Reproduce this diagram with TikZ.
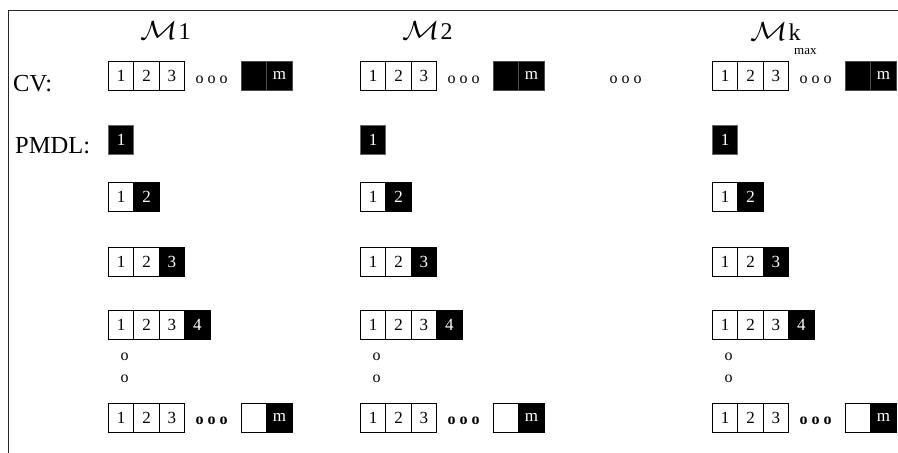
\documentclass[tikz,border=0pt]{standalone}
\usepackage{fontspec}
\setmainfont{Liberation Serif}
\newcommand{\bigM}{\scalebox{1.25}[1.05]{$\mathcal{M}$}}
\begin{document}
\begin{tikzpicture}[x=1pt,y=-1pt,
  cell/.style={draw=black, line width=0.8pt, minimum width=25.4pt, minimum height=29pt,
    inner sep=0pt, anchor=north west, font=\fontsize{17}{17}\selectfont},
  wcell/.style={cell, fill=white},
  bcell/.style={cell, fill=black, text=white},
  lab/.style={font=\fontsize{24.5}{24.5}\selectfont, anchor=base west, inner sep=0pt},
  ttl/.style={font=\fontsize{24}{24}\selectfont, anchor=base west, inner sep=0pt},
  odots/.style={font=\fontsize{16}{16}\selectfont, inner sep=0pt},
  frameline/.style={line width=0.9pt, draw=black!85}]
\useasboundingbox (0,0) rectangle (898,453);
% frame
\coordinate (fbl) at (8,453);
\coordinate (ftl) at (8,10);
\coordinate (ftr) at (898,10);
\draw[frameline] (fbl) -- (ftl) -- (ftr);
% labels
\node[lab] (cvlab) at (13,91) {CV:};
\node[lab] (pmdllab) at (15,153) {PMDL:};
% titles
\node[ttl] (t1) at (140,39) {\bigM\kern1pt 1};
\node[ttl] (t2) at (402,39) {\bigM\kern1pt 2};
\node[ttl] (t3) at (750,40) {\bigM\kern1pt k};
\node[font=\fontsize{13}{13}\selectfont, anchor=base west, inner sep=0pt] (t3s) at (794,54) {max};
% middle dots
\node[odots] (middots) at (625.5,80) {o o o};
% columns
\foreach \c/\x in {1/108, 2/360, 3/712}{
  % CV row
  \node[wcell] (cv-\c-1) at (\x,61) {1};
  \node[wcell] (cv-\c-2) at ({\x+25.4},61) {2};
  \node[wcell] (cv-\c-3) at ({\x+50.8},61) {3};
  \node[odots] (cv-\c-d) at ({\x+103.5},80) {o o o};
  \node[bcell, draw=black!70] (cv-\c-4) at ({\x+133},61) {};
  \node[bcell, draw=black!70] (cv-\c-m) at ({\x+158.4},61) {m};
  % PMDL rows
  \node[bcell, draw=black!60] (r1-\c-1) at (\x,125) {1};
  \node[wcell] (r2-\c-1) at (\x,182) {1};
  \node[bcell] (r2-\c-2) at ({\x+25.4},182) {2};
  \node[wcell] (r3-\c-1) at (\x,247) {1};
  \node[wcell] (r3-\c-2) at ({\x+25.4},247) {2};
  \node[bcell] (r3-\c-3) at ({\x+50.8},247) {3};
  \node[wcell] (r4-\c-1) at (\x,310) {1};
  \node[wcell] (r4-\c-2) at ({\x+25.4},310) {2};
  \node[wcell] (r4-\c-3) at ({\x+50.8},310) {3};
  \node[bcell] (r4-\c-4) at ({\x+76.2},310) {4};
  \node[odots] (v-\c-1) at ({\x+16.5},357) {o};
  \node[odots] (v-\c-2) at ({\x+16.5},379) {o};
  \node[wcell] (r5-\c-1) at (\x,403) {1};
  \node[wcell] (r5-\c-2) at ({\x+25.4},403) {2};
  \node[wcell] (r5-\c-3) at ({\x+50.8},403) {3};
  \node[odots, font=\fontsize{16}{16}\selectfont\bfseries] (r5-\c-d) at ({\x+103.5},420.5) {o o o};
  \node[wcell] (r5-\c-4) at ({\x+133},403) {};
  \node[bcell] (r5-\c-m) at ({\x+158.4},403) {m};
}
\end{tikzpicture}
\end{document}
